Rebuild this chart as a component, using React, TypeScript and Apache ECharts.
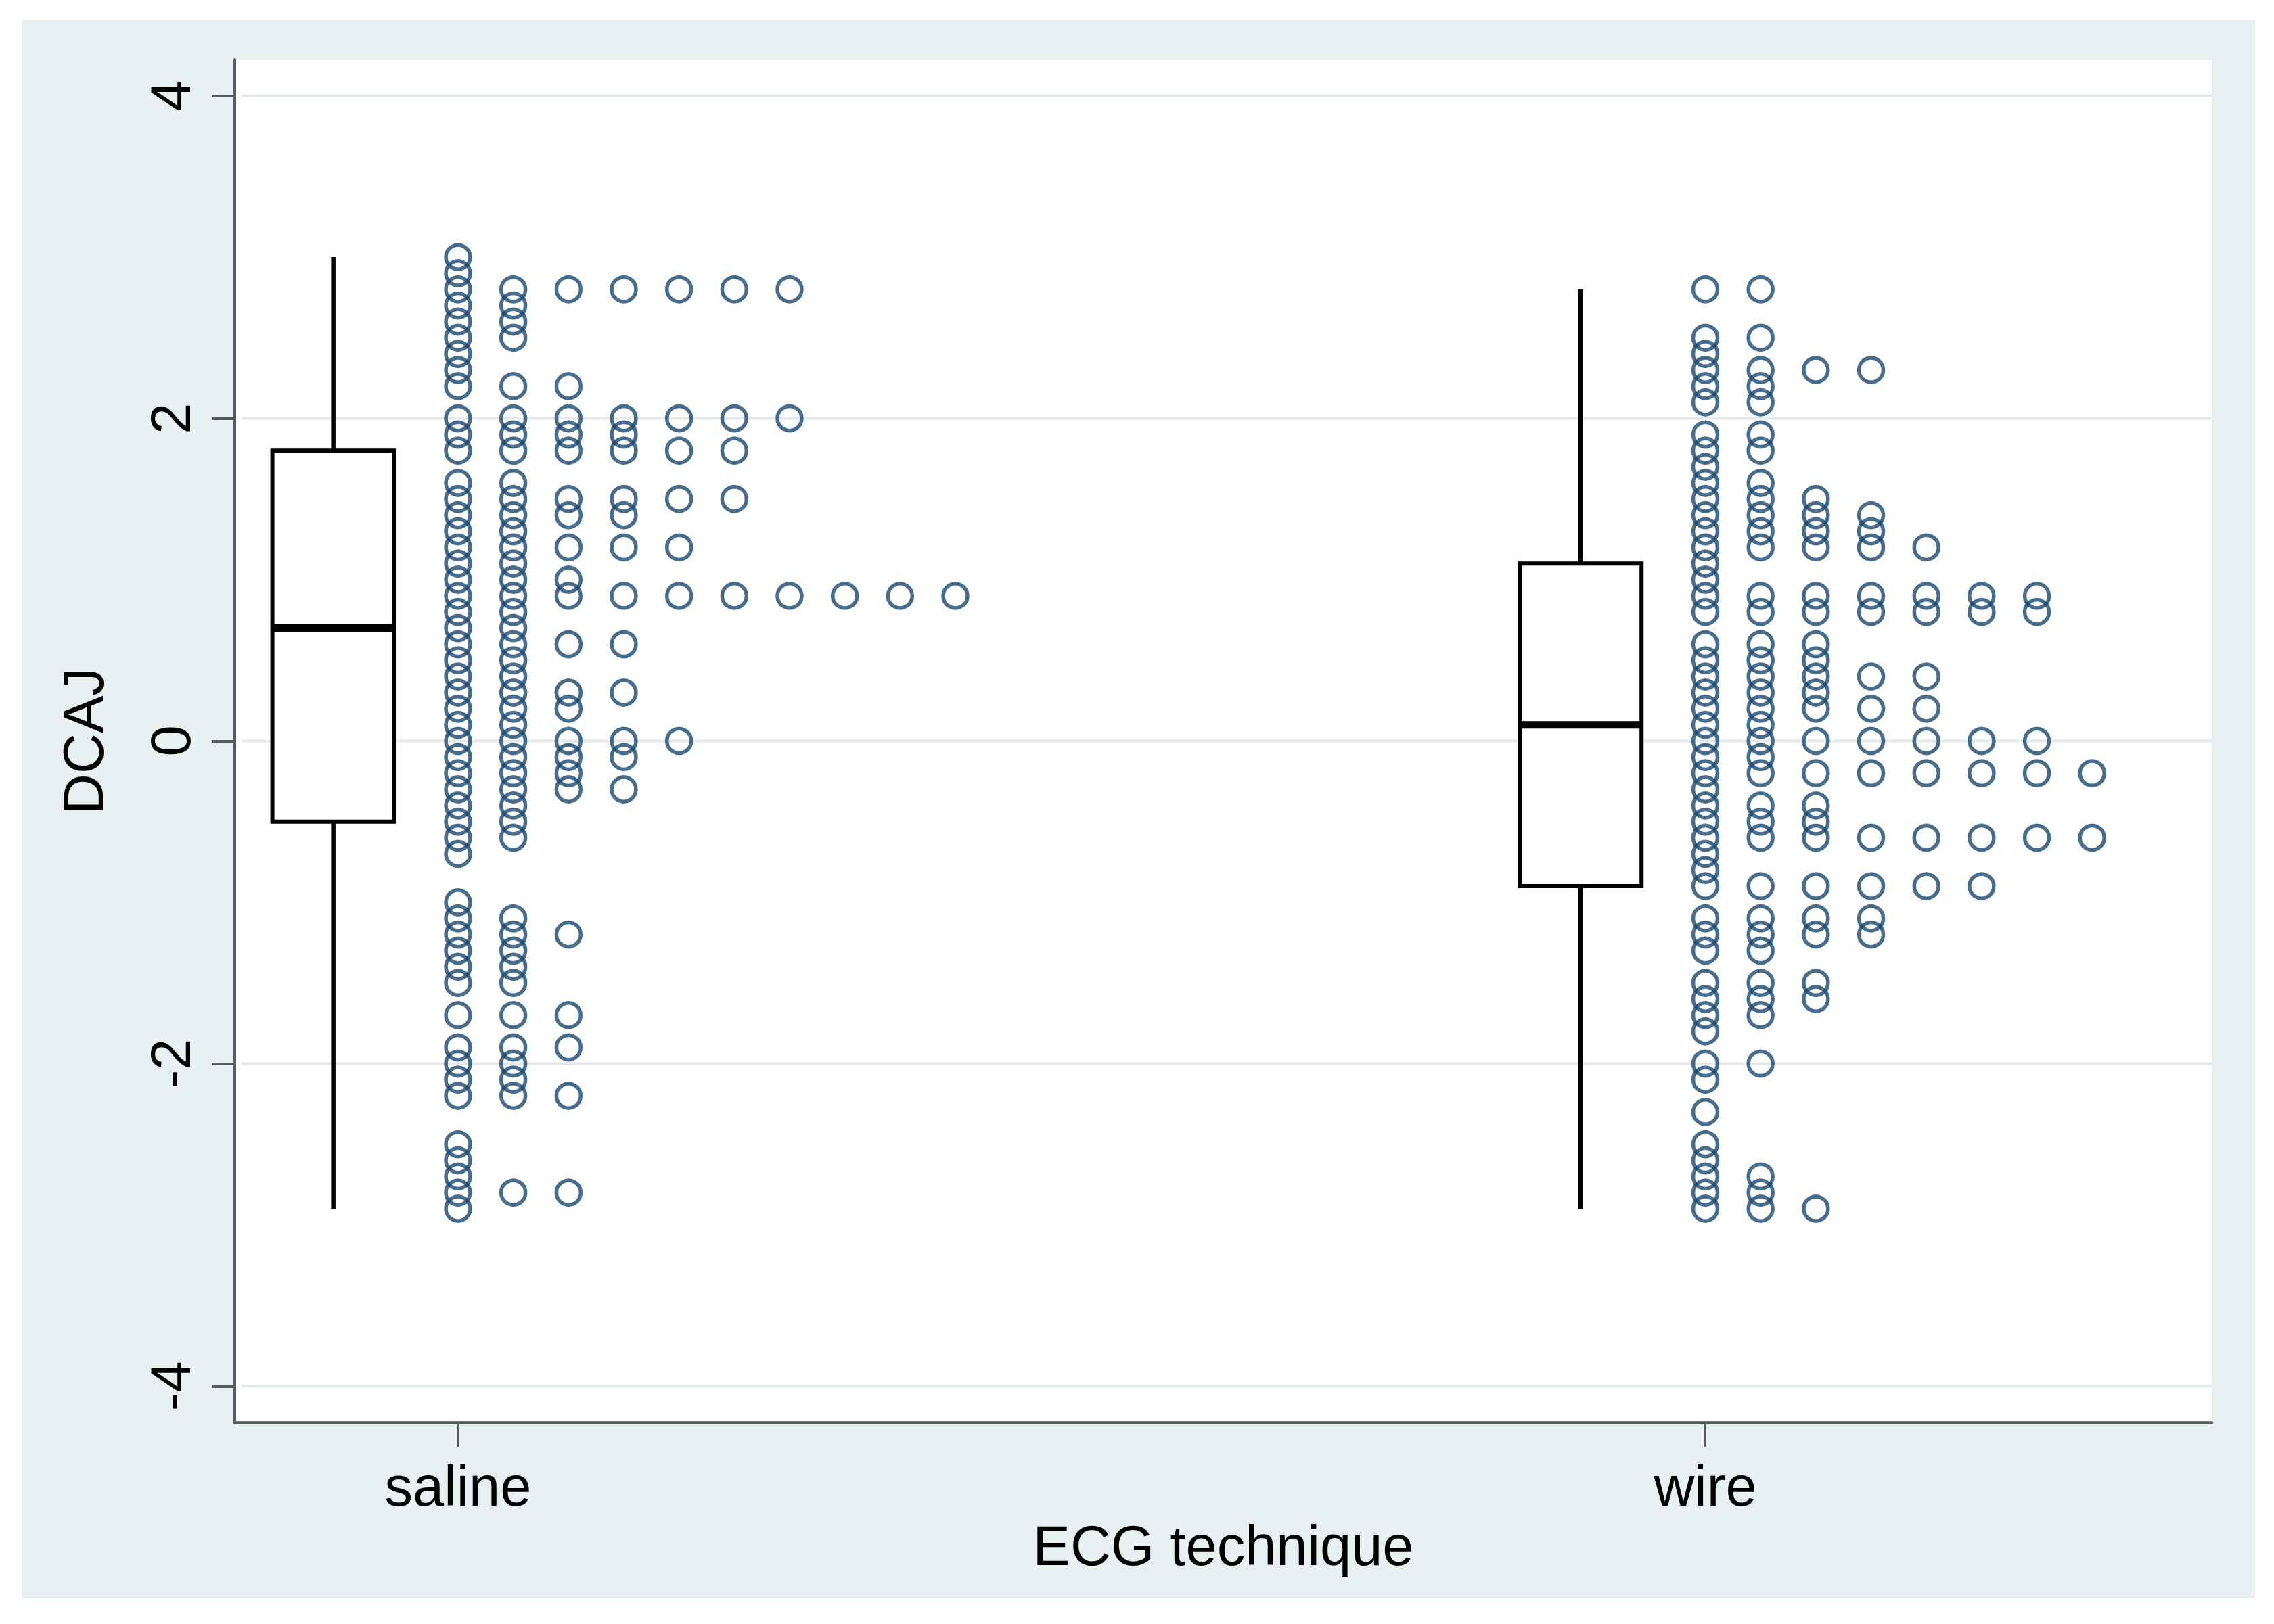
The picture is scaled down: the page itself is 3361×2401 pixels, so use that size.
import React, { useEffect, useRef } from "react";
import * as echarts from "echarts";

// ---- data ----
const categories = ["saline", "wire"];
const categoryPositions = [1, 2];

const salineValues = [
  3.0, 2.9, 2.8, 2.7, 2.6, 2.5, 2.4, 2.3, 2.2, 2.0, 1.9, 1.8, 1.6, 1.5, 1.4, 1.3, 1.2, 1.1, 1.0, 0.9,
  0.8, 0.7, 0.6, 0.5, 0.4, 0.3, 0.2, 0.1, 0.0, -0.1, -0.2, -0.3, -0.4, -0.5, -0.6, -0.7, -1.0, -1.1,
  -1.2, -1.3, -1.4, -1.5, -1.7, -1.9, -2.0, -2.1, -2.2, -2.5, -2.6, -2.7, -2.8, -2.9,
];
const salineCounts = [
  1, 1, 7, 2, 2, 2, 1, 1, 3, 7, 4, 6, 2, 6, 4, 2, 5, 2, 3, 10,
  2, 2, 4, 2, 2, 4, 3, 2, 5, 4, 3, 4, 2, 2, 2, 1, 1, 2,
  3, 2, 2, 2, 3, 3, 2, 2, 3, 1, 1, 1, 3, 1,
];

const wireValues = [
  2.8, 2.5, 2.4, 2.3, 2.2, 2.1, 1.9, 1.8, 1.7, 1.6, 1.5, 1.4, 1.3, 1.2, 1.1, 1.0, 0.9, 0.8,
  0.6, 0.5, 0.4, 0.3, 0.2, 0.1, 0.0, -0.1, -0.2, -0.3, -0.4, -0.5, -0.6, -0.7, -0.8, -0.9,
  -1.1, -1.2, -1.3, -1.5, -1.6, -1.7, -1.8, -2.0, -2.1, -2.3, -2.5, -2.6, -2.7, -2.8, -2.9,
];
const wireCounts = [
  2, 2, 1, 4, 2, 2, 2, 2, 1, 2, 3, 4, 4, 5, 1, 1, 7, 7,
  3, 3, 5, 3, 5, 2, 7, 2, 8, 1, 3, 3, 8, 1, 1, 6,
  4, 4, 2, 3, 3, 2, 1, 2, 1, 1, 1, 1, 2, 2, 3,
];

// [lower adjacent, Q1, median, Q3, upper adjacent]
const salineBox = [-2.9, -0.5, 0.7, 1.8, 3.0];
const wireBox = [-2.9, -0.9, 0.1, 1.1, 2.8];

const yTicks = [-4, -2, 0, 2, 4];

// ---- layout / style constants ----
const X_MIN = 0.821;
const X_MAX = 2.406;
const Y_MIN = -4.225;
const Y_MAX = 4.225;
const DOT_STEP = 0.0443;
const BOX_OFFSET = -0.1;
const BOX_WIDTH = 0.0977;

const FONT = "'Liberation Sans', Arial, Helvetica, sans-serif";
const NAVY = "#1a476f";
const BG = "#e8f0f2";
const GRIDLINE = "#e1eaec";
const AXIS = "#555a5c";

function dotData(values: number[], counts: number[], pos: number) {
  const out: number[][] = [];
  values.forEach((v, i) => {
    for (let k = 0; k < counts[i]; k++) out.push([pos + k * DOT_STEP, v]);
  });
  return out;
}

export default function App() {
  const ref = useRef<HTMLDivElement>(null);

  useEffect(() => {
    if (!ref.current) return;
    const chart = echarts.init(ref.current, undefined, { renderer: "svg" });

    const boxData = [
      [categoryPositions[0] + BOX_OFFSET, ...salineBox],
      [categoryPositions[1] + BOX_OFFSET, ...wireBox],
    ];

    const option: any = {
      animation: false,
      backgroundColor: "#ffffff",
      graphic: [
        {
          type: "rect",
          left: 32,
          top: 29,
          z: -10,
          silent: true,
          shape: { width: 3301, height: 2334 },
          style: { fill: BG },
        },
      ],
      grid: {
        left: 347,
        top: 88,
        width: 2922,
        height: 2015,
        show: true,
        backgroundColor: "#ffffff",
        borderWidth: 0,
      },
      xAxis: {
        type: "value",
        min: X_MIN,
        max: X_MAX,
        z: 5,
        splitLine: { show: false },
        axisLine: { show: true, onZero: false, lineStyle: { color: AXIS, width: 4.5 } },
        axisTick: {
          show: true,
          customValues: categoryPositions,
          length: 36,
          lineStyle: { color: AXIS, width: 3 },
        },
        axisLabel: {
          customValues: categoryPositions,
          formatter: (v: number) => {
            const i = categoryPositions.indexOf(Math.round(v));
            return i >= 0 ? categories[i] : "";
          },
          margin: 53,
          fontSize: 83,
          color: "#000",
          fontFamily: FONT,
        },
        name: "ECG technique",
        nameLocation: "middle",
        nameGap: 141,
        nameTextStyle: { fontSize: 83, color: "#000", fontFamily: FONT },
      },
      yAxis: {
        type: "value",
        min: Y_MIN,
        max: Y_MAX,
        z: 5,
        splitLine: { show: false },
        axisLine: { show: true, onZero: false, lineStyle: { color: AXIS, width: 4 } },
        axisTick: {
          show: true,
          customValues: yTicks,
          length: 34,
          lineStyle: { color: AXIS, width: 4 },
        },
        axisLabel: {
          customValues: yTicks,
          rotate: 90,
          margin: 53,
          fontSize: 83,
          color: "#000",
          fontFamily: FONT,
        },
        name: "DCAJ",
        nameLocation: "middle",
        nameGap: 182,
        nameTextStyle: { fontSize: 83, color: "#000", fontFamily: FONT },
      },
      series: [
        {
          type: "custom",
          name: "grid",
          z: 1,
          silent: true,
          data: yTicks.map((v) => [X_MIN, v]),
          encode: { x: 0, y: 1 },
          renderItem: (params: any, api: any) => {
            const v = api.value(1);
            const p1 = api.coord([X_MIN, v]);
            const p2 = api.coord([X_MAX, v]);
            return {
              type: "line",
              shape: { x1: p1[0] + 10, y1: p1[1], x2: p2[0], y2: p2[1] },
              style: { stroke: GRIDLINE, lineWidth: 4 },
            };
          },
        },
        {
          type: "custom",
          name: "box",
          z: 2,
          silent: true,
          data: boxData,
          encode: { x: 0, y: [1, 2, 3, 4, 5] },
          renderItem: (params: any, api: any) => {
            const x = api.value(0);
            const pLo = api.coord([x, api.value(1)]);
            const pQ1 = api.coord([x, api.value(2)]);
            const pMed = api.coord([x, api.value(3)]);
            const pQ3 = api.coord([x, api.value(4)]);
            const pHi = api.coord([x, api.value(5)]);
            const halfW = api.size([BOX_WIDTH, 0])[0] / 2;
            return {
              type: "group",
              children: [
                {
                  type: "line",
                  shape: { x1: pHi[0], y1: pHi[1], x2: pQ3[0], y2: pQ3[1] },
                  style: { stroke: "#000", lineWidth: 6.5 },
                },
                {
                  type: "line",
                  shape: { x1: pQ1[0], y1: pQ1[1], x2: pLo[0], y2: pLo[1] },
                  style: { stroke: "#000", lineWidth: 6.5 },
                },
                {
                  type: "rect",
                  shape: {
                    x: pQ3[0] - halfW,
                    y: pQ3[1],
                    width: 2 * halfW,
                    height: pQ1[1] - pQ3[1],
                  },
                  style: { fill: "#fff", stroke: "#000", lineWidth: 6 },
                },
                {
                  type: "line",
                  shape: { x1: pMed[0] - halfW, y1: pMed[1], x2: pMed[0] + halfW, y2: pMed[1] },
                  style: { stroke: "#000", lineWidth: 11 },
                },
              ],
            };
          },
        },
        {
          type: "scatter",
          name: "saline",
          z: 3,
          symbol: "circle",
          symbolSize: 36,
          itemStyle: { color: "rgba(0,0,0,0)", borderColor: NAVY, borderWidth: 5.5 },
          data: dotData(salineValues, salineCounts, categoryPositions[0]),
        },
        {
          type: "scatter",
          name: "wire",
          z: 3,
          symbol: "circle",
          symbolSize: 36,
          itemStyle: { color: "rgba(0,0,0,0)", borderColor: NAVY, borderWidth: 5.5 },
          data: dotData(wireValues, wireCounts, categoryPositions[1]),
        },
      ],
    };

    chart.setOption(option);
    return () => chart.dispose();
  }, []);

  return (
    <div
      ref={ref}
      style={{ position: "fixed", left: 0, top: 0, width: 3361, height: 2401, background: "#fff" }}
    />
  );
}
